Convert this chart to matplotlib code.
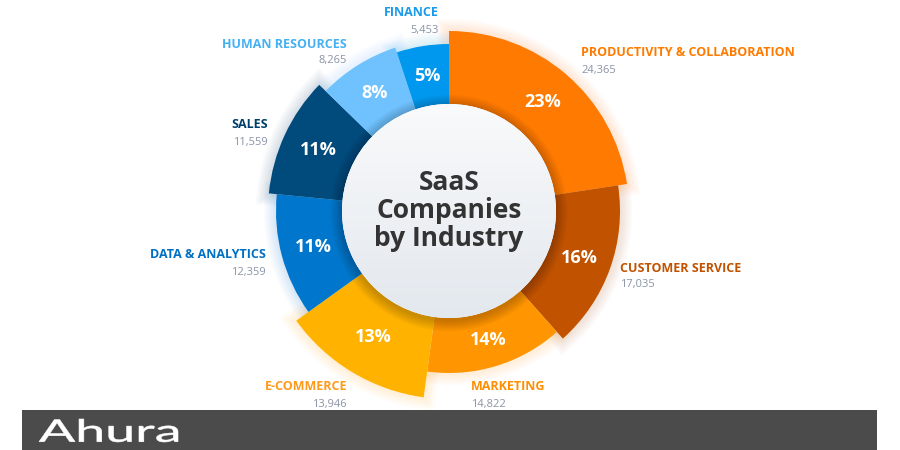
import numpy as np
import matplotlib
matplotlib.use("Agg")
import matplotlib.pyplot as plt
from matplotlib.patches import Circle, Rectangle, Wedge, PathPatch
from matplotlib.textpath import TextPath
from matplotlib.font_manager import FontProperties
from matplotlib.transforms import Affine2D

# data, clockwise from 12 o'clock
industries = ["PRODUCTIVITY & COLLABORATION", "CUSTOMER SERVICE", "MARKETING", "E-COMMERCE",
              "DATA & ANALYTICS", "SALES", "HUMAN RESOURCES", "FINANCE"]
companies = [24365, 17035, 14822, 13946, 12359, 11559, 8265, 5453]
shares = ["23%", "16%", "14%", "13%", "11%", "11%", "8%", "5%"]
outer_r = [180, 171, 162, 188, 173, 181, 172, 167]
colors = ["#FF7A00", "#C05200", "#FF9500", "#FFB300", "#0077CC", "#004A7C", "#70C2FF", "#0098EE"]
label_colors = ["#FF7A00", "#C05200", "#FF8F00", "#FF9A1A", "#0070C4", "#003F6B", "#45B0F2", "#1A9BEA"]
# label anchors in image pixels (x, y, ha)
label_pos = [(581, 53, "left"), (620, 268, "left"), (471, 387, "left"), (347, 387, "right"),
             (266, 255, "right"), (268, 125, "right"), (347, 44, "right"), (439, 13, "right")]

W, H = 900, 450
cx, cy = 449, H - 211
r_in = 107

fig = plt.figure(figsize=(9, 4.5), dpi=100)
ax = fig.add_axes([0, 0, 1, 1])

wedges, _ = ax.pie(companies, startangle=90, counterclock=False, center=(cx, cy),
                   radius=180, colors=colors, wedgeprops=dict(width=73, linewidth=0))
for w, r in zip(wedges, outer_r):
    w.set_radius(r)
    w.set_width(r - r_in)
    w.set_zorder(3)

# soft glow behind the ring
for w, col in zip(wedges, colors):
    for i in range(1, 9):
        ax.add_patch(Wedge(w.center, w.r, w.theta1, w.theta2, width=w.width,
                           facecolor="none", edgecolor=col, linewidth=2.2 * i,
                           alpha=0.018, zorder=1))

# percent labels at mid ring
total = sum(companies)
start = 90.0
for val, r, txt in zip(companies, outer_r, shares):
    ang = start - val / total * 180.0
    start -= val / total * 360.0
    rm = (r + r_in) / 2
    ax.text(cx + rm * np.cos(np.radians(ang)), cy + rm * np.sin(np.radians(ang)), txt,
            color="white", fontsize=13, fontweight="bold", family="Open Sans",
            ha="center", va="center", zorder=6)

# shadow of center disc on the ring
for i in range(1, 8):
    ax.add_patch(Circle((cx, cy - 2), r_in + i * 1.6, facecolor="black", alpha=0.03,
                        edgecolor="none", zorder=4))
disc = Circle((cx, cy), r_in, facecolor="#eef1f5", edgecolor="none", zorder=5)
ax.add_patch(disc)
grad = np.linspace(0, 1, 256).reshape(-1, 1)
cmap = matplotlib.colors.LinearSegmentedColormap.from_list("g", ["#e3e8ee", "#f9fafb"])
im = ax.imshow(grad, extent=(cx - r_in, cx + r_in, cy - r_in, cy + r_in), origin="lower",
               cmap=cmap, zorder=5.5, aspect="auto")
im.set_clip_path(disc)

for line, y in zip(["SaaS", "Companies", "by Industry"], [182, 211, 239]):
    ax.text(cx, H - y, line, color="#333333", fontsize=19, fontweight="bold",
            family="Open Sans", ha="center", va="center", zorder=7)

# category labels
for name, val, col, (x, y, ha) in zip(industries, companies, label_colors, label_pos):
    ax.text(x, H - y, name, color=col, fontsize=9, fontweight="bold", family="Open Sans",
            ha=ha, va="center")
    ax.text(x, H - y - 17, f"{val:,}", color="#8A94A6", fontsize=8, family="Open Sans",
            ha=ha, va="center")

# footer band with a wide logo
ax.add_patch(Rectangle((22, 0), 855, 40, facecolor="#4B4B4B", edgecolor="none", zorder=8))
tp = TextPath((0, 0), "Ahura", size=20, prop=FontProperties(family="Lato"))
ext = tp.get_extents()
sx = 139 / ext.width
sy = 23 / ext.height
logo = tp.transformed(Affine2D().translate(-ext.x0, -ext.y0).scale(sx, sy).translate(39, 8))
ax.add_patch(PathPatch(logo, facecolor="white", edgecolor="white", linewidth=0.4, zorder=9))

ax.set_xlim(0, W)
ax.set_ylim(0, H)
ax.set_aspect("auto")
ax.axis("off")
fig.savefig("out.png", dpi=100, facecolor="white")
